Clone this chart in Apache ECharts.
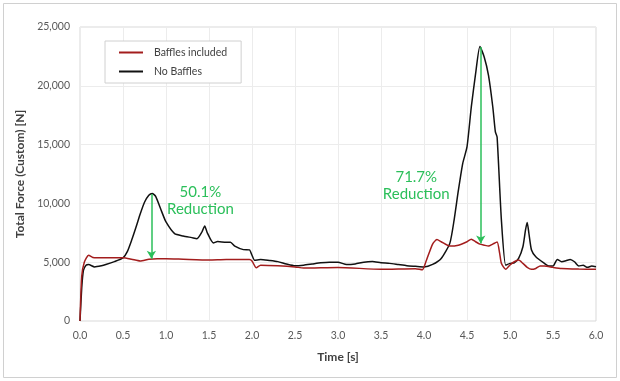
<!DOCTYPE html>
<html><head><meta charset="utf-8">
<script src="https://cdn.jsdelivr.net/npm/echarts@6/dist/echarts.min.js"></script>
<style>html,body{margin:0;padding:0;background:#fff}#c{width:620px;height:381px}</style>
</head><body><div id="c"></div>
<script>
// Time [s] and force [N] samples
const noBafflesT = [0,0.02,0.04,0.07,0.1,0.17,0.25,0.3,0.4,0.5,0.55,0.6,0.65,0.7,0.75,0.8,0.84,0.88,0.95,1.0,1.1,1.2,1.3,1.36,1.42,1.45,1.48,1.55,1.6,1.7,1.75,1.8,1.9,1.97,2.0,2.03,2.1,2.2,2.3,2.4,2.5,2.6,2.7,2.8,2.9,3.0,3.1,3.2,3.3,3.4,3.5,3.6,3.7,3.8,3.9,4.0,4.1,4.2,4.3,4.35,4.4,4.45,4.5,4.55,4.6,4.65,4.7,4.75,4.8,4.83,4.85,4.9,4.95,5.0,5.05,5.1,5.15,5.18,5.2,5.22,5.25,5.3,5.4,5.45,5.5,5.55,5.6,5.65,5.7,5.75,5.8,5.85,5.9,5.95,6.0];
const noBafflesV = [0,2800,4300,4750,4800,4600,4700,4800,5050,5370,5900,6860,7950,9100,10100,10700,10850,10600,9300,8420,7430,7230,7090,7000,7600,8080,7500,6640,6750,6700,6700,6360,6070,6050,5590,5170,5230,5150,5050,4850,4700,4750,4850,4950,5000,5000,4800,4850,5000,5050,4950,4900,4800,4700,4650,4600,4810,5320,6600,8580,11120,13390,14800,18200,21030,23350,22450,20890,18200,16080,15650,8580,4750,4900,4950,5320,6310,7730,8380,7440,6030,5460,4900,4670,4670,5240,5040,5120,5240,5040,4670,4750,4560,4670,4610];
const bafflesT = [0,0.02,0.05,0.1,0.15,0.2,0.3,0.4,0.5,0.6,0.7,0.8,0.9,1.0,1.2,1.5,1.7,1.97,2.0,2.05,2.1,2.3,2.5,2.6,3.0,3.5,3.9,3.98,4.02,4.1,4.15,4.2,4.3,4.4,4.5,4.55,4.6,4.65,4.7,4.75,4.8,4.85,4.88,4.9,4.95,5.0,5.05,5.1,5.15,5.2,5.25,5.3,5.35,5.4,5.5,5.6,5.8,6.0];
const bafflesV = [0,3800,5000,5600,5400,5370,5370,5370,5370,5250,5100,5250,5300,5300,5250,5180,5220,5220,5100,4520,4750,4700,4600,4500,4550,4400,4450,4350,5000,6540,6930,6740,6370,6450,6740,6960,6740,6540,6450,6370,6540,6710,5750,4900,4390,4760,5040,5180,4900,4560,4390,4470,4670,4670,4560,4470,4420,4390];
const xTicks = [0,0.5,1,1.5,2,2.5,3,3.5,4,4.5,5,5.5,6];
const seriesNames = ['Baffles included','No Baffles'];
const arrow1 = {t:0.83, from:10800, to:5300, text:'50.1%\nReduction', tx:1.4, ty:10200};
const arrow2 = {t:4.66, from:23300, to:6600, text:'71.7%\nReduction', tx:3.91, ty:11500};

const zip = (a,b)=>a.map((t,i)=>[t,b[i]]);
const green = '#2bbf5a';
const font = 'Lato, "Open Sans", sans-serif';
const chart = echarts.init(document.getElementById('c'), null, {renderer:'canvas'});
chart.setOption({
  animation:false,
  backgroundColor:'#fff',
  graphic:[{type:'rect',shape:{x:3.5,y:3.5,width:613,height:374},style:{fill:'none',stroke:'#d0d0d0',lineWidth:1},silent:true}],
  grid:{left:80,right:24,top:27,bottom:60,show:true,borderColor:'#d9d9d9',borderWidth:1},
  legend:{
    data:seriesNames, orient:'vertical', left:105, top:41,
    padding:[6,14,6,14], itemGap:8, itemWidth:24, itemHeight:2,
    borderColor:'#d0d0d0', borderWidth:1, backgroundColor:'#fff',
    icon:'rect',
    textStyle:{fontFamily:font,fontSize:10.5,color:'#404040',padding:[0,0,0,6]}
  },
  xAxis:{type:'value',min:0,max:6,interval:0.5,
    name:'Time [s]',nameLocation:'middle',nameGap:30,
    nameTextStyle:{fontFamily:font,fontSize:12,fontWeight:'bold',color:'#404040'},
    axisLine:{show:false},axisTick:{show:false},
    axisLabel:{fontFamily:font,fontSize:10.5,color:'#595959',margin:9,formatter:v=>v.toFixed(1)},
    splitLine:{lineStyle:{color:'#ececec'}}},
  yAxis:{type:'value',min:0,max:25000,interval:5000,
    name:'Total Force (Custom) [N]',nameLocation:'middle',nameGap:50,
    nameTextStyle:{fontFamily:font,fontSize:12,fontWeight:'bold',color:'#404040'},
    axisLine:{show:false},axisTick:{show:false},
    axisLabel:{fontFamily:font,fontSize:10.5,color:'#595959',margin:10,formatter:v=>v.toLocaleString('en-US')},
    splitLine:{lineStyle:{color:'#ececec'}}},
  series:[
    {name:seriesNames[0],type:'line',data:zip(bafflesT,bafflesV),showSymbol:false,smooth:0.2,
      lineStyle:{color:'#a31d1d',width:1.5},itemStyle:{color:'#a31d1d'},z:3},
    {name:seriesNames[1],type:'line',data:zip(noBafflesT,noBafflesV),showSymbol:false,smooth:0.2,
      lineStyle:{color:'#111',width:1.5},itemStyle:{color:'#111'},z:2,
      markLine:{silent:true,symbol:['none','arrow'],symbolSize:[7,8],
        lineStyle:{color:green,width:1.5,type:'solid'},label:{show:false},
        data:[[{coord:[arrow1.t,arrow1.from]},{coord:[arrow1.t,arrow1.to]}],
              [{coord:[arrow2.t,arrow2.from]},{coord:[arrow2.t,arrow2.to]}]]},
      markPoint:{silent:true,symbol:'circle',symbolSize:0,
        label:{show:true,position:'inside',color:green,fontFamily:font,fontSize:15,lineHeight:17,align:'center'},
        data:[{coord:[arrow1.tx,arrow1.ty],value:arrow1.text,label:{formatter:arrow1.text}},
              {coord:[arrow2.tx,arrow2.ty],value:arrow2.text,label:{formatter:arrow2.text}}]}}
  ]
});
</script></body></html>
